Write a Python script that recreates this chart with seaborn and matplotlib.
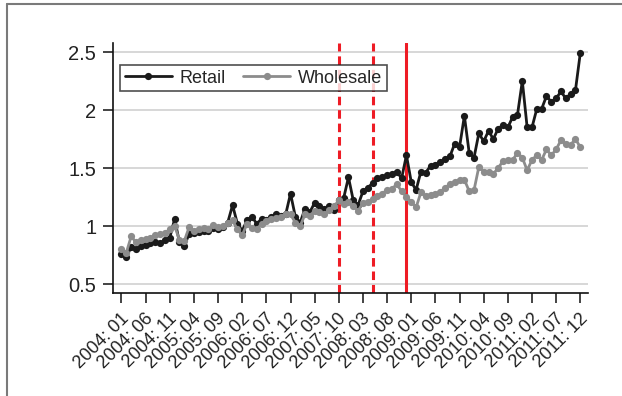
import matplotlib
matplotlib.use("Agg")
import matplotlib.pyplot as plt
import matplotlib.transforms as mtransforms
from matplotlib.lines import Line2D
import numpy as np
import pandas as pd
import seaborn as sns

# Monthly price indices, 2004:01 - 2011:12
retail = [
    0.76, 0.73, 0.82, 0.80, 0.83, 0.84, 0.85, 0.86, 0.85, 0.88, 0.90, 1.06,
    0.86, 0.83, 0.93, 0.94, 0.95, 0.96, 0.96, 0.98, 0.97, 0.99, 1.03, 1.18,
    1.02, 0.96, 1.05, 1.08, 1.02, 1.06, 1.05, 1.08, 1.10, 1.09, 1.10, 1.28,
    1.08, 1.03, 1.15, 1.12, 1.20, 1.17, 1.15, 1.17, 1.14, 1.22, 1.24, 1.42,
    1.22, 1.18, 1.30, 1.33, 1.37, 1.41, 1.42, 1.44, 1.45, 1.47, 1.41, 1.61,
    1.38, 1.31, 1.47, 1.46, 1.52, 1.53, 1.55, 1.58, 1.60, 1.71, 1.68, 1.95,
    1.63, 1.59, 1.80, 1.73, 1.82, 1.75, 1.84, 1.87, 1.85, 1.94, 1.96, 2.25,
    1.85, 1.85, 2.01, 2.01, 2.12, 2.07, 2.10, 2.16, 2.10, 2.14, 2.17, 2.49,
]
wholesale = [
    0.80, 0.77, 0.91, 0.86, 0.88, 0.89, 0.90, 0.92, 0.93, 0.94, 0.97, 1.00,
    0.88, 0.87, 0.99, 0.96, 0.97, 0.98, 0.97, 1.01, 0.99, 1.00, 1.03, 1.05,
    0.97, 0.92, 1.02, 0.98, 0.97, 1.02, 1.04, 1.06, 1.07, 1.08, 1.10, 1.10,
    1.03, 1.00, 1.10, 1.09, 1.13, 1.12, 1.10, 1.14, 1.17, 1.22, 1.19, 1.21,
    1.17, 1.13, 1.20, 1.21, 1.23, 1.26, 1.28, 1.31, 1.32, 1.36, 1.30, 1.25,
    1.21, 1.16, 1.29, 1.26, 1.27, 1.28, 1.29, 1.33, 1.36, 1.38, 1.40, 1.40,
    1.30, 1.31, 1.51, 1.47, 1.47, 1.45, 1.50, 1.56, 1.57, 1.57, 1.63, 1.59,
    1.48, 1.57, 1.61, 1.57, 1.66, 1.61, 1.66, 1.74, 1.71, 1.70, 1.75, 1.68,
]
series_names = ["Retail", "Wholesale"]

# every fifth month is labelled
tick_months = [0, 5, 10, 15, 20, 25, 30, 35, 40, 45,
               50, 55, 60, 65, 70, 75, 80, 85, 90, 95]
tick_labels = ["2004: 01", "2004: 06", "2004: 11", "2005: 04", "2005: 09",
               "2006: 02", "2006: 07", "2006: 12", "2007: 05", "2007: 10",
               "2008: 03", "2008: 08", "2009: 01", "2009: 06", "2009: 11",
               "2010: 04", "2010: 09", "2011: 02", "2011: 07", "2011: 12"]
y_ticks = [0.5, 1.0, 1.5, 2.0, 2.5]
y_labels = ["0.5", "1", "1.5", "2", "2.5"]

# event markers (month index): 2007:10, 2008:05 dashed; 2008:12 solid
dashed_events = [45, 52]
solid_events = [59]

n = len(retail)
df = pd.DataFrame({
    "month": list(range(n)) * 2,
    "value": retail + wholesale,
    "series": [series_names[0]] * n + [series_names[1]] * n,
})

sns.set_theme(style="white")
plt.rcParams["font.family"] = ["Liberation Sans", "DejaVu Sans"]

fig = plt.figure(figsize=(6.22, 3.96), dpi=100)
ax = fig.add_axes([113 / 622, 103 / 396, 475 / 622, 250 / 396])

red = "#ee1c25"
for m in dashed_events:
    ax.axvline(m, color=red, lw=2.2, ls=(0, (2.8, 1.6)), zorder=1)
for m in solid_events:
    ax.axvline(m, color=red, lw=2.2, zorder=1)

palette = {"Retail": "#1a1a1a", "Wholesale": "#8c8c8c"}
msize, lwidth = 5.2, 2.0
sns.lineplot(data=df, x="month", y="value", hue="series", style="series",
             palette=palette, markers={"Retail": "o", "Wholesale": "o"},
             dashes=False, markersize=msize, markeredgewidth=0,
             linewidth=lwidth, ax=ax, legend=False, zorder=3)

ax.set_xlim(-1.76, 96.6)
ax.set_ylim(0.4224, 2.578)
ax.set_xlabel("")
ax.set_ylabel("")

ax.grid(axis="y", color="#d4d4d4", lw=1.3, zorder=0)
ax.grid(axis="x", visible=False)
ax.set_axisbelow(True)

for side in ["top", "right"]:
    ax.spines[side].set_visible(False)
for side in ["left", "bottom"]:
    ax.spines[side].set_color("#111111")
    ax.spines[side].set_linewidth(1.2)
ax.tick_params(axis="both", direction="out", length=7, width=1.1,
               color="#111111", labelcolor="#222222",
               bottom=True, left=True)
ax.tick_params(axis="y", pad=5)
ax.tick_params(axis="x", pad=3)

ax.set_yticks(y_ticks)
ax.set_yticklabels(y_labels, fontsize=14.5)
ax.set_xticks(tick_months)
ax.set_xticklabels(tick_labels, fontsize=13, rotation=45,
                   ha="right", va="top", rotation_mode="default")
# shift the slanted month labels so each one ends just right of its tick
offset = mtransforms.ScaledTranslation(0.11, -0.03, fig.dpi_scale_trans)
for lab in ax.xaxis.get_majorticklabels():
    lab.set_transform(lab.get_transform() + offset)

handles = [
    Line2D([], [], color=palette[s], marker="o", markersize=msize,
           markeredgewidth=0, lw=lwidth) for s in series_names
]
leg = ax.legend(handles, series_names, ncol=2, loc="upper left",
                bbox_to_anchor=(0.015, 0.912), borderaxespad=0,
                frameon=True, fancybox=False, fontsize=13,
                handlelength=2.6, handletextpad=0.45, columnspacing=0.95,
                borderpad=0.25)
leg.get_frame().set_edgecolor("#222222")
leg.get_frame().set_linewidth(1.2)

# page frame along the top and left edges
fig.add_artist(Line2D([7 / 622, 7 / 622], [0, 1 - 4 / 396],
                      transform=fig.transFigure, color="#7a7a7a", lw=1.5))
fig.add_artist(Line2D([7 / 622, 1], [1 - 4 / 396, 1 - 4 / 396],
                      transform=fig.transFigure, color="#7a7a7a", lw=1.5))

fig.savefig("out.png", dpi=100)
